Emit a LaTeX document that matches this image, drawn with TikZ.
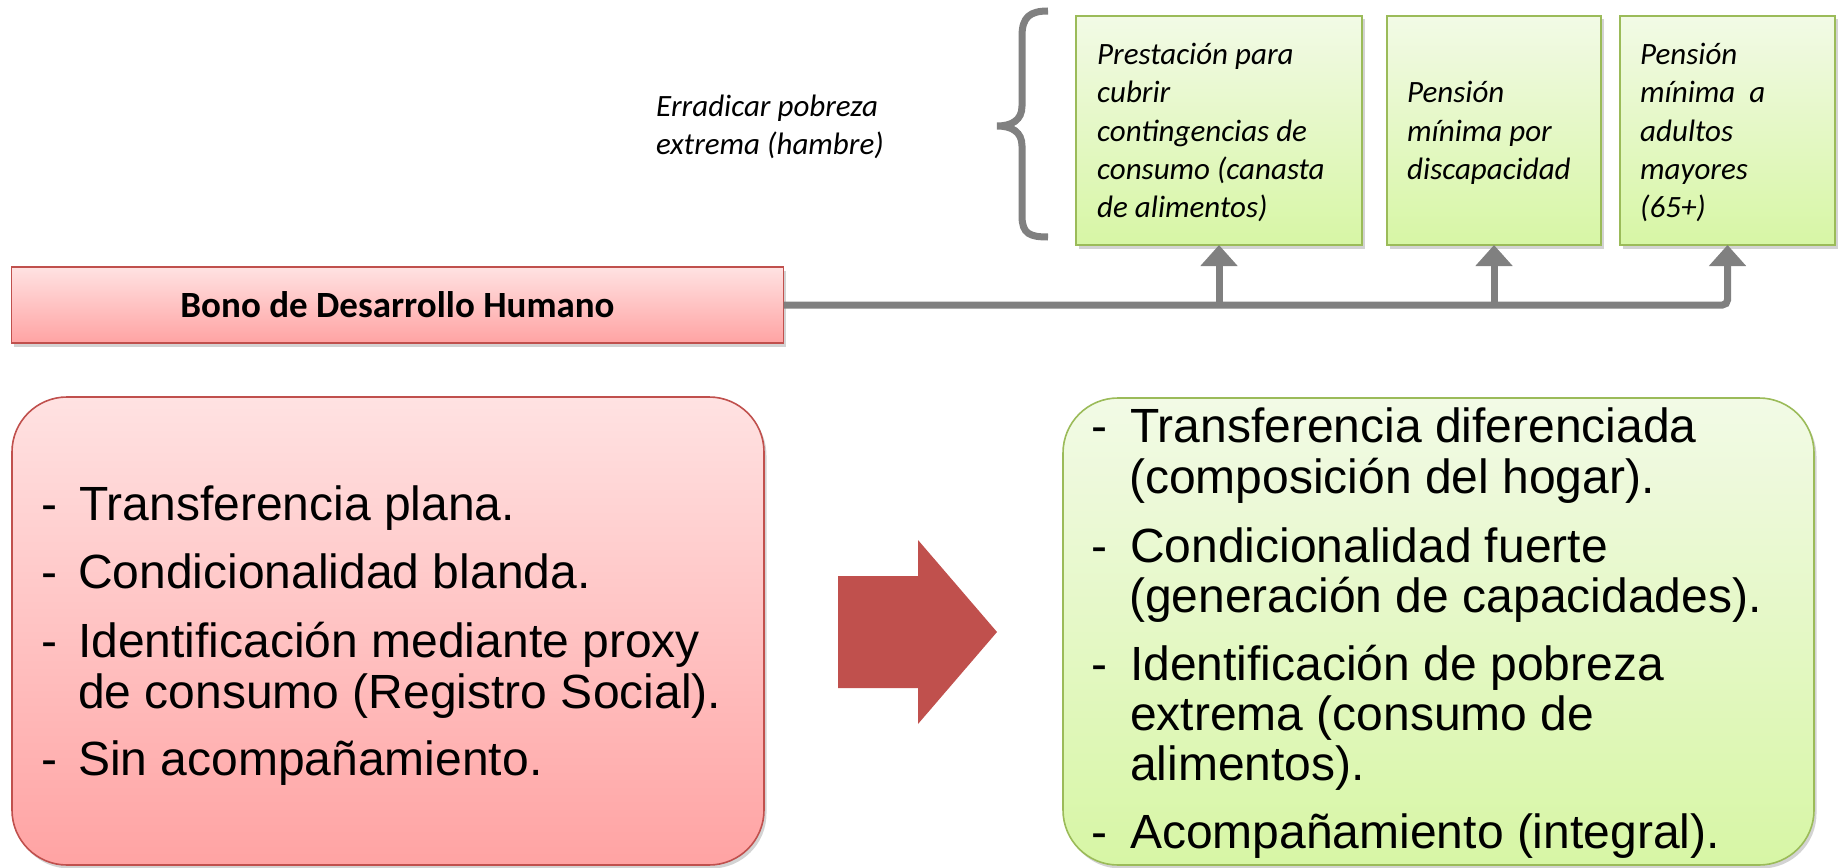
\documentclass[tikz,border=0pt]{standalone}
\usepackage{fontspec}
\setmainfont{Liberation Sans}
\newfontfamily\calibri{Carlito}
\usetikzlibrary{arrows.meta,shadows}
\definecolor{redborder}{HTML}{C0504D}
\definecolor{redtop}{RGB}{255,226,226}
\definecolor{redbot}{RGB}{255,163,163}
\definecolor{greenborder}{HTML}{9BBB59}
\definecolor{greentop}{RGB}{242,250,230}
\definecolor{greenbot}{RGB}{215,246,165}
\definecolor{conngray}{RGB}{128,128,128}
\definecolor{bigarrow}{HTML}{C0504D}
\tikzset{
  boxshadow/.style={drop shadow={opacity=0.35, shadow xshift=2.5pt, shadow yshift=-3.5pt}},
  redbox/.style={draw=redborder, line width=1.6pt, top color=redtop, bottom color=redbot, boxshadow, inner sep=0pt, outer sep=0pt},
  greenbox/.style={draw=greenborder, line width=1.6pt, top color=greentop, bottom color=greenbot, boxshadow, inner sep=0pt, outer sep=0pt},
  conn/.style={draw=conngray, line width=7pt},
  upconn/.style={conn, -{Triangle[length=21pt,width=36pt]}},
  smalltxt/.style={font=\calibri\itshape\fontsize{31}{38}\selectfont, anchor=base west, inner sep=0pt},
  bigtxt/.style={font=\fontsize{48}{51}\selectfont, anchor=base west, inner sep=0pt},
}
\begin{document}
\begin{tikzpicture}[x=1pt,y=-1pt]
\useasboundingbox (0,0) rectangle (1841,867);

% top-left: main programme box
\node[redbox, minimum width=772pt, minimum height=76pt] (bono) at (397.5,305)
  {\calibri\bfseries\fontsize{37}{40}\selectfont Bono de Desarrollo Humano};

% note and brace
\node[smalltxt] (note1) at (656,116.5) {Erradicar pobreza};
\node[smalltxt] (note2) at (656,154.8) {extrema (hambre)};
\draw[draw=conngray, line width=7pt]
  (1048,11) .. controls (1030,11) and (1022,17) .. (1022,36) -- (1022,106)
  .. controls (1022,120) and (1012,126) .. (997,126)
  .. controls (1012,126) and (1022,132) .. (1022,146) -- (1022,216)
  .. controls (1022,234) and (1030,237) .. (1048,237);

% three green boxes
\node[greenbox, minimum width=286pt, minimum height=229pt] (box1) at (1219,130.5) {};
\node[greenbox, minimum width=214pt, minimum height=229pt] (box2) at (1494,130.5) {};
\node[greenbox, minimum width=215pt, minimum height=229pt] (box3) at (1727.5,130.5) {};

\foreach \t [count=\i] in {Prestación para, cubrir, contingencias de, consumo (canasta, de alimentos)}
  \node[smalltxt] (pa-\i) at (1097,{64.5+38.3*(\i-1)}) {\t};
\foreach \t [count=\i] in {Pensión, mínima por, discapacidad}
  \node[smalltxt] (pd-\i) at (1407,{102.8+38.3*(\i-1)}) {\t};
\foreach \t [count=\i] in {Pensión, mínima~~a, adultos, mayores, (65+)}
  \node[smalltxt] (pm-\i) at (1640,{64.5+38.3*(\i-1)}) {\t};

% connectors
\draw[upconn, rounded corners=5pt] (bono.east) -| (box3.south);
\coordinate (j1) at (bono.east -| box1.south);
\coordinate (j2) at (bono.east -| box2.south);
\draw[upconn] (j1) -- (box1.south);
\draw[upconn] (j2) -- (box2.south);

% bottom boxes
\node[redbox, rounded corners=55pt, minimum width=752pt, minimum height=468pt] (left) at (388,631) {};
\node[greenbox, rounded corners=55pt, minimum width=751pt, minimum height=467pt] (right) at (1438.5,631.5) {};

% big arrow
\fill[bigarrow] (838,576) -- (918,576) -- (918,540) -- (997,632) -- (918,724) -- (918,688) -- (838,688) -- cycle;

% left list
\foreach \y in {520,588,657,775}
  \node[bigtxt] at (41,\y) {-};
\node[bigtxt] (l1) at (79,520) {Transferencia plana.};
\node[bigtxt] (l2) at (78,588) {Condicionalidad blanda.};
\node[bigtxt] (l3) at (78,657) {Identificación mediante proxy};
\node[bigtxt] (l3b) at (78,708) {de consumo (Registro Social).};
\node[bigtxt] (l4) at (78,775) {Sin acompañamiento.};

% right list
\foreach \y in {442,562,680,848}
  \node[bigtxt] at (1091,\y) {-};
\node[bigtxt] (r1) at (1130,442) {Transferencia diferenciada};
\node[bigtxt] (r1b) at (1129,493) {(composición del hogar).};
\node[bigtxt] (r2) at (1130,562) {Condicionalidad fuerte};
\node[bigtxt] (r2b) at (1129,612) {(generación de capacidades).};
\node[bigtxt] (r3) at (1130,680) {Identificación de pobreza};
\node[bigtxt] (r3b) at (1130,730) {extrema (consumo de};
\node[bigtxt] (r3c) at (1130,780) {alimentos).};
\node[bigtxt] (r4) at (1130,848) {Acompañamiento (integral).};
\end{tikzpicture}
\end{document}
